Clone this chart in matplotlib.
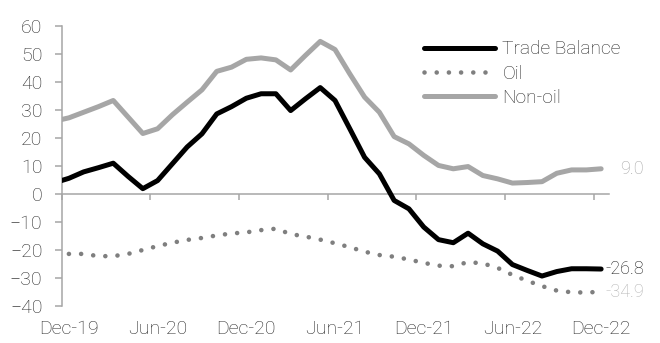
import numpy as np
import pandas as pd
import matplotlib
matplotlib.use('Agg')
import matplotlib.pyplot as plt

plt.rcParams['font.family'] = ['Roboto', 'DejaVu Sans']
plt.rcParams['font.weight'] = 'light'

# monthly series, Nov-19 .. Dec-22 (Nov-19 only feeds the clipped first segment)
months = pd.period_range('2019-11', '2022-12', freq='M').strftime('%b-%y').tolist()

trade_balance = [4.0, 5.6, 7.9, 9.4, 11.0, 6.3, 1.9, 4.8, 10.8, 16.8, 21.5, 28.6, 31.2,
                 34.2, 35.8, 35.8, 29.8, 34.0, 38.0, 33.4, 23.3, 13.1, 7.2, -2.3, -5.3,
                 -11.8, -16.3, -17.4, -14.0, -17.8, -20.4, -25.2, -27.3, -29.3, -27.7,
                 -26.7, -26.7, -26.8]
oil = [np.nan, -21.4, -21.4, -22.2, -22.2, -21.4, -20.0, -18.6, -17.4, -16.4, -15.7,
       -14.8, -14.1, -13.7, -12.9, -12.4, -14.3, -15.2, -16.3, -17.6, -19.0, -20.6,
       -21.8, -22.4, -23.4, -24.6, -25.6, -25.8, -24.3, -24.8, -26.4, -28.9, -31.0,
       -32.9, -34.5, -35.1, -35.2, -34.9]
non_oil = [26.0, 27.2, 29.2, 31.2, 33.4, 27.5, 21.6, 23.3, 28.3, 32.8, 37.2, 43.8, 45.3,
           48.1, 48.6, 47.9, 44.3, 49.5, 54.5, 51.6, 42.9, 34.6, 29.2, 20.5, 17.9, 13.8,
           10.2, 9.0, 9.8, 6.6, 5.4, 3.9, 4.1, 4.4, 7.4, 8.6, 8.6, 9.0]

axis_grey = '#a6a6a6'
text_grey = '#262626'

fig = plt.figure(figsize=(6.6, 3.43), dpi=100)
ax = fig.add_axes([0.0932, 0.1079, 0.8288, 0.8163])

# points sit in the middle of each month slot; Dec-19 slot starts at 0
x = np.arange(len(months)) - 0.5

ax.plot(x, trade_balance, color='black', lw=3.6, solid_joinstyle='round',
        solid_capstyle='round', label='Trade Balance', zorder=4)
ax.plot(x, oil, color='#7f7f7f', lw=3.3, linestyle=(0, (0.01, 2.65)),
        dash_capstyle='round', label='Oil', zorder=3)
ax.plot(x, non_oil, color='#a6a6a6', lw=3.6, solid_joinstyle='round',
        solid_capstyle='round', label='Non-oil', zorder=3)

ax.set_xlim(0, 37)
ax.set_ylim(-40, 60)
ax.set_yticks(range(-40, 61, 10))

for side in ['top', 'right']:
    ax.spines[side].set_visible(False)
ax.spines['bottom'].set_position(('data', 0))
ax.spines['bottom'].set_color(axis_grey)
ax.spines['left'].set_color(axis_grey)
ax.spines['bottom'].set_linewidth(1.1)
ax.spines['left'].set_linewidth(1.1)

# tick marks on the zero line, labels along the bottom
tick_idx = np.arange(0, 37, 6)
ax.set_xticks(tick_idx)
ax.set_xticklabels([])
ax.tick_params(axis='x', direction='out', length=4.5, width=1.1, color=axis_grey)
ax.tick_params(axis='y', direction='out', length=4.7, width=1.1, color=axis_grey,
               labelsize=14, labelcolor=text_grey, pad=9)

sec = ax.secondary_xaxis('bottom')
sec.set_xticks(tick_idx + 0.5, [months[i + 1] for i in tick_idx])
sec.tick_params(length=0, pad=10, labelsize=14, labelcolor=text_grey)
sec.spines['bottom'].set_visible(False)

# end-of-series values
for vals, col in [(non_oil, '#a6a6a6'), (trade_balance, '#1a1a1a'), (oil, '#b3b3b3')]:
    ax.annotate(f'{vals[-1]:.1f}', xy=(x[-1], vals[-1]), xytext=(31, 0),
                textcoords='offset points', ha='right', va='center', color=col,
                fontsize=13, annotation_clip=False)

ax.legend(loc='upper left', bbox_to_anchor=(0.642, 0.882), bbox_transform=fig.transFigure,
          frameon=False, fontsize=13.8, handlelength=3.7, handletextpad=0.4,
          labelspacing=0.33, borderpad=0, borderaxespad=0, labelcolor=text_grey)

fig.savefig('out.png', dpi=100)
